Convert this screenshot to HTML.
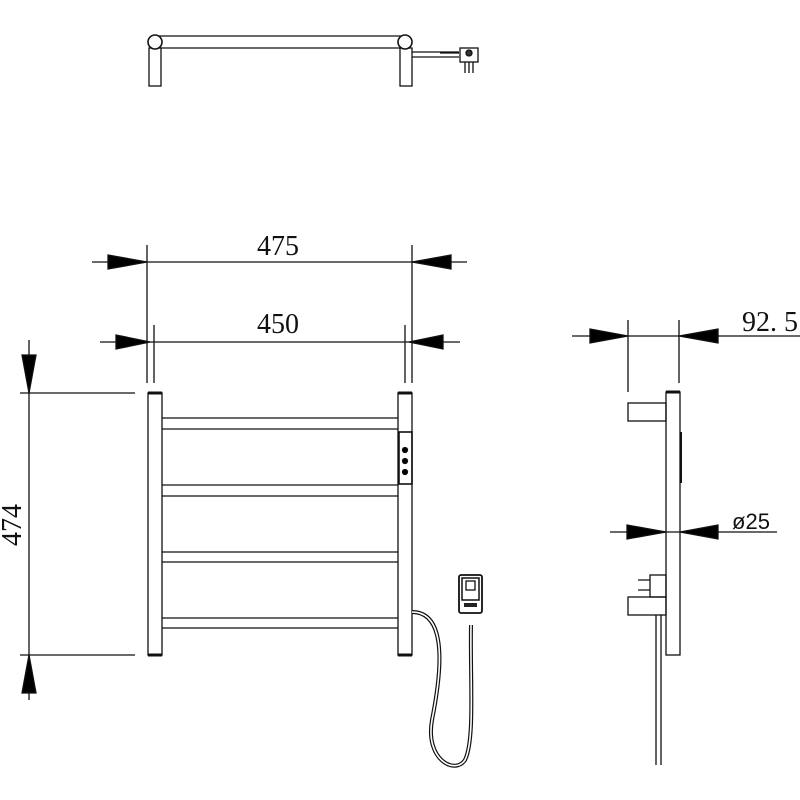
<!DOCTYPE html>
<html><head><style>body{margin:0;background:#fff}svg{display:block}</style></head><body>
<svg width="800" height="800" viewBox="0 0 800 800" xmlns="http://www.w3.org/2000/svg" fill="none" stroke="#111" stroke-width="1.3" font-family="Liberation Serif, serif">
<!-- top view -->
<line x1="155" y1="36" x2="405" y2="36"/><line x1="155" y1="48" x2="405" y2="48"/>
<rect x="149" y="48" width="12" height="38" fill="#fff"/><rect x="400" y="48" width="12" height="38" fill="#fff"/>
<circle cx="155" cy="42" r="7" fill="#fff" stroke-width="1.6"/><circle cx="405" cy="42" r="7" fill="#fff" stroke-width="1.6"/>
<path d="M412 52 H459 M412 57 H459 M440 53 H459"/>
<rect x="460" y="48" width="18" height="14" fill="#fff"/><circle cx="469" cy="53" r="3" fill="#333"/>
<path d="M465 62 V73 M469 62 V73 M473 62 V73"/>
<!-- dim 475 -->
<line x1="92" y1="262" x2="467" y2="262"/>
<line x1="147" y1="245" x2="147" y2="383"/><line x1="412" y1="245" x2="412" y2="383"/>
<polygon points="108,255 147,262 108,269" fill="#000"/><polygon points="451,255 412,262 451,269" fill="#000"/>
<!-- dim 450 -->
<line x1="100" y1="342" x2="460" y2="342"/>
<line x1="154" y1="325" x2="154" y2="383"/><line x1="405" y1="325" x2="405" y2="383"/>
<polygon points="116,335 150,342 116,349" fill="#000"/><polygon points="443,335 409,342 443,349" fill="#000"/>
<g fill="#111" stroke="none" font-size="28" text-anchor="middle"><text x="278" y="255">475</text><text x="278" y="333">450</text></g>
<!-- dim 474 -->
<line x1="29" y1="340" x2="29" y2="700"/>
<line x1="20" y1="393" x2="135" y2="393"/><line x1="20" y1="655" x2="135" y2="655"/>
<polygon points="22,355 29,393 36,355" fill="#000"/><polygon points="22,693 29,655 36,693" fill="#000"/>
<text x="0" y="0" fill="#111" stroke="none" font-size="28" text-anchor="middle" transform="translate(21,525) rotate(-90)">474</text>
<!-- front frame -->
<rect x="148" y="393" width="14" height="262"/><rect x="398" y="393" width="14" height="262"/>
<path d="M148 393 H162 M398 393 H412 M148 655 H162 M398 655 H412" stroke-width="3"/>
<path d="M162 418 H398 M162 429 H398 M162 485 H398 M162 496 H398 M162 552 H398 M162 562 H398 M162 618 H398 M162 628 H398"/>
<rect x="399" y="432" width="13" height="52" stroke-width="1.6"/>
<circle cx="405" cy="450" r="2.5" fill="#000"/><circle cx="405" cy="461" r="2.5" fill="#000"/><circle cx="405" cy="472" r="2.5" fill="#000"/>
<!-- cable -->
<path d="M412 612 C450 612 440 680 432 720 C425 760 455 775 465 760 C475 740 470 680 471 625" stroke-width="4"/>
<path d="M412 612 C450 612 440 680 432 720 C425 760 455 775 465 760 C475 740 470 680 471 625" stroke="#fff" stroke-width="1.6"/>
<rect x="459" y="575" width="23" height="38" rx="2" fill="#fff" stroke-width="1.8"/>
<rect x="462" y="578" width="17" height="22" fill="#fff" stroke-width="1.5"/><rect x="466" y="581" width="9" height="9" fill="#fff"/>
<rect x="464" y="603" width="13" height="4" fill="#222" stroke="none"/>
<!-- side view -->
<line x1="572" y1="336" x2="800" y2="336"/>
<line x1="628" y1="320" x2="628" y2="392"/><line x1="679" y1="320" x2="679" y2="383"/>
<polygon points="590,329 628,336 590,343" fill="#000"/><polygon points="718,329 679,336 718,343" fill="#000"/>
<text x="770" y="331" fill="#111" stroke="none" font-size="28" text-anchor="middle">92. 5</text>
<rect x="666" y="392" width="14" height="263"/><path d="M666 392 H680" stroke-width="3"/>
<rect x="628" y="403" width="38" height="18"/>
<path d="M681 432 V483" stroke-width="2"/>
<line x1="610" y1="532" x2="777" y2="532"/>
<polygon points="627,525 666,532 627,539" fill="#000"/><polygon points="718,525 680,532 718,539" fill="#000"/>
<text x="751" y="529" fill="#111" stroke="none" font-family="Liberation Sans, sans-serif" font-size="22" text-anchor="middle">ø25</text>
<rect x="650" y="575" width="16" height="22"/><path d="M638 580 H650 M638 590 H650"/>
<rect x="628" y="597" width="38" height="18"/>
<path d="M656 615 V765 M661 615 V765"/>
</svg>
</body></html>
